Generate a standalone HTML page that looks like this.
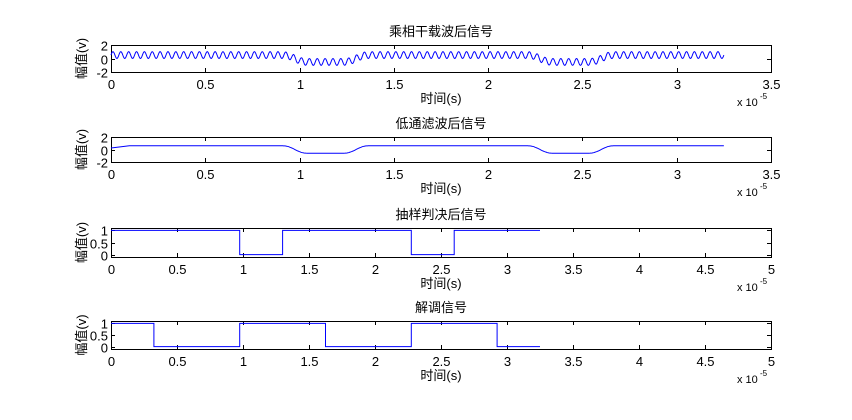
<!DOCTYPE html>
<html><head><meta charset="utf-8"><style>
body{margin:0;background:#fff;}
svg{display:block;font-family:"Liberation Sans","Noto Sans CJK SC",sans-serif;}
</style></head><body>
<svg id="fig" width="852" height="420" viewBox="0 0 852 420" xmlns="http://www.w3.org/2000/svg"></svg>
<script>
// Data
const bits = [1,1,1,0,1,1,1,0,1,1];          // transmitted symbol signs (1 => +, 0 => -)
const decided = [1,1,1,0,1,1,1,0,1,1];       // sampled decision output
const demod = [1,0,0,1,1,0,0,1,1,0];         // demodulated bits
const bitDur = 0.325;                         // x1e-5 s
const carrierCycles = 24;                     // cycles per 1e-5 s
const lpLevel = 0.6;
const ticks1 = [0,0.5,1,1.5,2,2.5,3,3.5];
const ticks2 = [0,0.5,1,1.5,2,2.5,3,3.5,4,4.5,5];
const yTicksA = [-2,0,2];
const yTicksB = [0,0.5,1];

const NS="http://www.w3.org/2000/svg";
const svg=document.getElementById('fig');
function mk(tag,attrs,parent){const e=document.createElementNS(NS,tag);for(const k in attrs)e.setAttribute(k,attrs[k]);(parent||svg).appendChild(e);return e;}
function txt(s,x,y,size,anchor,parent){const t=mk('text',{x:x,y:y,'font-size':size,'text-anchor':anchor||'middle',fill:'#000'},parent);t.textContent=s;return t;}

const L=111,R=771;
const panels=[
 {name:'carrier-mixed',title:'乘相干载波后信号',top:45,bot:72,xmax:3.5,ymin:-2,ymax:2,xt:ticks1,yt:yTicksA},
 {name:'lowpass',title:'低通滤波后信号',top:137,bot:162,xmax:3.5,ymin:-2,ymax:2,xt:ticks1,yt:yTicksA},
 {name:'decision',title:'抽样判决后信号',top:228,bot:257,xmax:5,ymin:-0.1,ymax:1.1,xt:ticks2,yt:yTicksB},
 {name:'demod',title:'解调信号',top:321,bot:349,xmax:5,ymin:-0.1,ymax:1.1,xt:ticks2,yt:yTicksB}
];
panels.forEach((p,i)=>{
  const g=mk('g',{});
  
  
  p.sx=v=>L+v/p.xmax*(R-L);
  p.sy=v=>p.bot-(v-p.ymin)/(p.ymax-p.ymin)*(p.bot-p.top);
  const r=mk('rect',{x:L+0.5,y:p.top+0.5,width:R-L,height:p.bot-p.top,fill:'#fff',stroke:'#000','stroke-width':1},g);
  
  
  p.xt.forEach(v=>{const x=Math.round(p.sx(v))+0.5;
    mk('line',{x1:x,x2:x,y1:p.bot,y2:p.bot-4,stroke:'#000'},g);
    mk('line',{x1:x,x2:x,y1:p.top,y2:p.top+4,stroke:'#000'},g);
    const t=txt(String(v),x,p.bot+17,13,'middle',g);
    
    
  });
  p.yt.forEach(v=>{const y=Math.round(p.sy(v))+0.5;
    mk('line',{x1:L,x2:L+4,y1:y,y2:y,stroke:'#000'},g);
    mk('line',{x1:R-4,x2:R,y1:y,y2:y,stroke:'#000'},g);
    const t=txt(String(v),L-3,y+5,13,'end',g);
    
    
  });
  const tt=txt(p.title,441,p.top-9,13,'middle',g);
  
  
  const xl=txt('时间(s)',441,p.bot+31,13,'middle',g);
  
  
  const ex=txt('x 10',737,p.bot+34,11,'start',g);
  
  
  txt('-5',760,p.bot+27,8,'start',g);
  const yc=(p.top+p.bot)/2;
  const yl=txt('幅值(v)',0,0,13,'middle',g);
  yl.setAttribute('transform','translate(86,'+yc+') rotate(-90)');
  
  
});

function addPath(p,pts,name){
  const d=pts.map((q,i)=>(i?'L':'M')+p.sx(q[0]).toFixed(2)+','+p.sy(q[1]).toFixed(2)).join('');
  const e=mk('path',{d:d,fill:'none',stroke:'#0000ff','stroke-width':1});
  
  
}
const T=bits.length*bitDur;
function lp(t){let s=0,c=0;
  for(let j=-30;j<=30;j++){const tt=t+j*0.0025;if(tt<0||tt>T)continue;const w=Math.cos(j/31*Math.PI/2)**2;const k=Math.min(bits.length-1,Math.floor(tt/bitDur));s+=w*(bits[k]?1:-1);c+=w;}
  return lpLevel*s/c;}
// Panel 1: mixed carrier
{const pts=[];const N=2000;
 for(let i=0;i<=N;i++){const t=i/N*T;
  pts.push([t,lp(t)*0.85+0.5*Math.sin(2*Math.PI*carrierCycles*t)]);}
 addPath(panels[0],pts,'mixed-signal-line');}
// Panel 2: low-pass
{const pts=[];const N=600;
 for(let i=0;i<=N;i++){const t=i/N*T;let v=lp(t); if(t<0.1)v*=t/0.1*0.6+0.4; pts.push([t,v]);}
 addPath(panels[1],pts,'lowpass-signal-line');}
function stepPts(arr){const pts=[];arr.forEach((b,i)=>{pts.push([i*bitDur,b]);pts.push([(i+1)*bitDur,b]);});return pts;}
addPath(panels[2],stepPts(decided),'decision-signal-line');
addPath(panels[3],stepPts(demod),'demod-signal-line');
</script>
</body></html>
